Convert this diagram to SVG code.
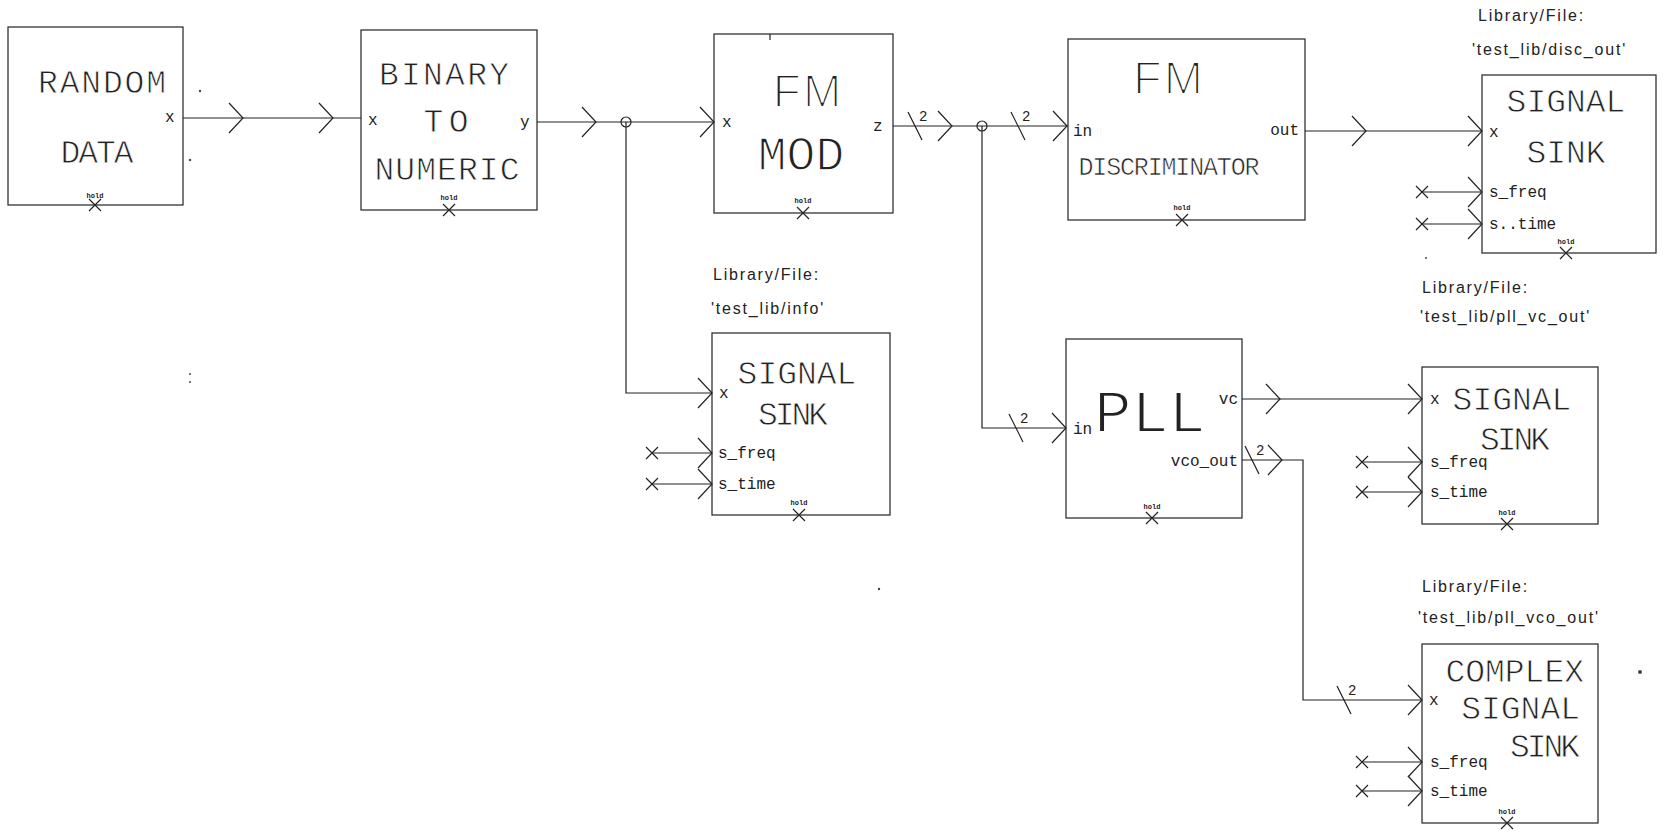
<svg xmlns="http://www.w3.org/2000/svg" width="1670" height="835" viewBox="0 0 1670 835">
<style>
.box{fill:none;stroke:#222;stroke-width:1.2}
.w{fill:none;stroke:#222;stroke-width:1.2}
text{font-family:"Liberation Mono","DejaVu Sans Mono",monospace;fill:#222}
.big{font-size:33px;text-anchor:middle;stroke:#fff;stroke-width:0.8px}
.huge{font-size:48px;text-anchor:middle;stroke:#fff;stroke-width:1.3px}
.fm{font-family:"Liberation Sans",Arial,sans-serif;font-size:46px;text-anchor:middle;stroke:#fff;stroke-width:2px;letter-spacing:2px}
.port{font-size:16px}
.lib{font-family:"Liberation Sans",Arial,sans-serif;font-size:16px;letter-spacing:1.8px}
.hold{font-size:7px;font-weight:bold;text-anchor:middle}
.two{font-size:14px}
.end{text-anchor:end}
.spk{fill:#444}
</style>
<defs>
<path id="chev" class="w" d="M-14,-15L0,0L-14,15"/>
<path id="xm" class="w" d="M-6,-6L6,6M-6,6L6,-6"/>
<path id="sl" class="w" d="M-7,-14L7,14"/>
</defs>
<rect width="1670" height="835" fill="#fff"/>

<g id="connectors">
<path class="w" d="M183,118H361"/>
<use href="#chev" x="243" y="118"/>
<use href="#chev" x="333" y="118"/>
<path class="w" d="M537,122H714"/>
<use href="#chev" x="596" y="122"/>
<use href="#chev" x="714" y="122"/>
<circle class="w" cx="626" cy="122" r="5"/>
<path class="w" d="M626,122V393H712"/>
<use href="#chev" x="712" y="393"/>
<path class="w" d="M893,126H1068"/>
<use href="#sl" x="915" y="126"/>
<text class="two" x="919" y="121">2</text>
<use href="#chev" x="952" y="126"/>
<circle class="w" cx="982" cy="126" r="5"/>
<use href="#sl" x="1018" y="126"/>
<text class="two" x="1022" y="121">2</text>
<use href="#chev" x="1067" y="126"/>
<path class="w" d="M982,126V428H1066"/>
<use href="#sl" x="1016" y="428"/>
<text class="two" x="1020" y="423">2</text>
<use href="#chev" x="1066" y="428"/>
<path class="w" d="M1305,131H1482"/>
<use href="#chev" x="1366" y="131"/>
<use href="#chev" x="1482" y="131"/>
<path class="w" d="M1242,399H1422"/>
<use href="#chev" x="1280" y="399"/>
<use href="#chev" x="1422" y="399"/>
<path class="w" d="M1242,460H1303V700H1422"/>
<use href="#sl" x="1252" y="460"/>
<text class="two" x="1256" y="455">2</text>
<use href="#chev" x="1282" y="460"/>
<use href="#sl" x="1344" y="700"/>
<text class="two" x="1348" y="695">2</text>
<use href="#chev" x="1422" y="700"/>
<path class="w" d="M1422,192H1482M1422,224H1482"/>
<use href="#xm" x="1422" y="192"/><use href="#xm" x="1422" y="224"/>
<use href="#chev" x="1482" y="192"/><use href="#chev" x="1482" y="224"/>
<path class="w" d="M652,453H712M652,484H712"/>
<use href="#xm" x="652" y="453"/><use href="#xm" x="652" y="484"/>
<use href="#chev" x="712" y="453"/><use href="#chev" x="712" y="484"/>
<path class="w" d="M1362,462H1422M1362,492H1422"/>
<use href="#xm" x="1362" y="462"/><use href="#xm" x="1362" y="492"/>
<use href="#chev" x="1422" y="462"/><use href="#chev" x="1422" y="492"/>
<path class="w" d="M1362,762H1422M1362,791H1422"/>
<use href="#xm" x="1362" y="762"/><use href="#xm" x="1362" y="791"/>
<use href="#chev" x="1422" y="762"/><use href="#chev" x="1422" y="791"/>
</g>

<g id="random_data">
<rect class="box" x="8" y="27" width="175" height="178"/>
<text class="big" x="102" y="93" textLength="128">RANDOM</text>
<text class="big" x="97" y="163" textLength="73">DATA</text>
<text class="port" x="165" y="122">x</text>
<text class="hold" x="95" y="198">hold</text>
<use href="#xm" x="95" y="205"/>
</g>

<g id="binary_to_numeric">
<rect class="box" x="361" y="30" width="176" height="180"/>
<text class="big" x="444" y="85" textLength="130">BINARY</text>
<text class="big" x="446" y="132" textLength="45">TO</text>
<text class="big" x="447" y="180" textLength="145">NUMERIC</text>
<text class="port" x="368" y="125">x</text>
<text class="port" x="520" y="127">y</text>
<text class="hold" x="449" y="200">hold</text>
<use href="#xm" x="449" y="210"/>
</g>

<g id="fm_mod">
<rect class="box" x="714" y="34" width="179" height="179"/>
<path class="w" d="M770,34V40"/>
<text class="fm" x="808" y="107">FM</text>
<text class="huge" x="801" y="170">MOD</text>
<text class="port" x="722" y="127">x</text>
<text class="port" x="873" y="131">z</text>
<text class="hold" x="803" y="203">hold</text>
<use href="#xm" x="803" y="213"/>
</g>

<g id="fm_discriminator">
<rect class="box" x="1068" y="39" width="237" height="181"/>
<text class="fm" x="1169" y="94" font-size="56" letter-spacing="0" textLength="72" lengthAdjust="spacingAndGlyphs">FM</text>
<text x="1169" y="175" font-size="25" text-anchor="middle" textLength="181" stroke="#fff" stroke-width="0.6">DISCRIMINATOR</text>
<text class="port" x="1073" y="136">in</text>
<text class="port end" x="1299" y="135">out</text>
<text class="hold" x="1182" y="210">hold</text>
<use href="#xm" x="1182" y="220"/>
</g>

<g id="sink_disc_out">
<text class="lib" x="1478" y="21">Library/File:</text>
<text class="lib" x="1472" y="55">'test_lib/disc_out'</text>
<rect class="box" x="1482" y="75" width="174" height="178"/>
<text class="big" x="1566" y="112">SIGNAL</text>
<text class="big" x="1566" y="163">SINK</text>
<text class="port" x="1489" y="137">x</text>
<text class="port" x="1489" y="197">s_freq</text>
<text class="port" x="1489" y="229">s..time</text>
<text class="hold" x="1566" y="244">hold</text>
<use href="#xm" x="1566" y="253"/>
</g>

<g id="sink_info">
<text class="lib" x="713" y="280">Library/File:</text>
<text class="lib" x="711" y="314">'test_lib/info'</text>
<rect class="box" x="712" y="333" width="178" height="182"/>
<text class="big" x="797" y="384">SIGNAL</text>
<text class="big" x="793" y="425" textLength="70">SINK</text>
<text class="port" x="719" y="398">x</text>
<text class="port" x="718" y="458">s_freq</text>
<text class="port" x="718" y="489">s_time</text>
<text class="hold" x="799" y="505">hold</text>
<use href="#xm" x="799" y="515"/>
</g>

<g id="pll">
<rect class="box" x="1066" y="339" width="176" height="179"/>
<text x="1150" y="432" font-size="62" text-anchor="middle" stroke="#fff" stroke-width="1.8">PLL</text>
<text class="port" x="1073" y="434">in</text>
<text class="port end" x="1238" y="404">vc</text>
<text class="port end" x="1238" y="466">vco_out</text>
<text class="hold" x="1152" y="509">hold</text>
<use href="#xm" x="1152" y="518"/>
</g>

<g id="sink_pll_vc_out">
<text class="lib" x="1422" y="293">Library/File:</text>
<text class="lib" x="1420" y="322">'test_lib/pll_vc_out'</text>
<rect class="box" x="1422" y="367" width="176" height="157"/>
<text class="big" x="1512" y="410">SIGNAL</text>
<text class="big" x="1515" y="450" textLength="70">SINK</text>
<text class="port" x="1430" y="404">x</text>
<text class="port" x="1430" y="467">s_freq</text>
<text class="port" x="1430" y="497">s_time</text>
<text class="hold" x="1507" y="515">hold</text>
<use href="#xm" x="1507" y="524"/>
</g>

<g id="complex_sink">
<text class="lib" x="1422" y="592">Library/File:</text>
<text class="lib" x="1418" y="623">'test_lib/pll_vco_out'</text>
<rect class="box" x="1422" y="644" width="176" height="179"/>
<text class="big end" x="1584" y="682">COMPLEX</text>
<text class="big end" x="1580" y="719">SIGNAL</text>
<text class="big end" x="1580" y="757" textLength="70">SINK</text>
<text class="port" x="1429" y="705">x</text>
<text class="port" x="1430" y="767">s_freq</text>
<text class="port" x="1430" y="796">s_time</text>
<text class="hold" x="1507" y="814">hold</text>
<use href="#xm" x="1507" y="823"/>
</g>

<g id="specks">
<circle class="spk" cx="200" cy="91" r="1.2"/>
<circle class="spk" cx="190" cy="160" r="1.2"/>
<circle class="spk" cx="190" cy="374" r="1"/>
<circle class="spk" cx="190" cy="382" r="1"/>
<circle class="spk" cx="879" cy="589" r="1.2"/>
<circle class="spk" cx="1640" cy="672" r="2"/>
<circle class="spk" cx="1426" cy="258" r="1"/>
</g>
</svg>
